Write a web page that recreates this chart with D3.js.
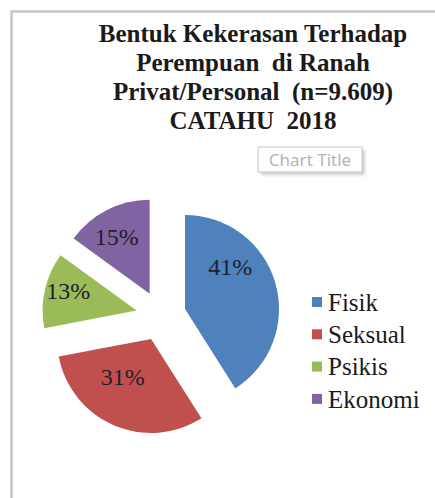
<!DOCTYPE html>
<html>
<head>
<meta charset="utf-8">
<script src="https://cdn.jsdelivr.net/npm/d3@7"></script>
<style>
  body { margin: 0; background: #fff; }
  text { white-space: pre; }
</style>
</head>
<body>
<script>
const categories = ["Fisik", "Seksual", "Psikis", "Ekonomi"]
const values = [41, 31, 13, 15]
const colors = ["#4f81bd", "#c0504d", "#9bbb59", "#8064a2"]
const titleLines = ["Bentuk Kekerasan Terhadap", "Perempuan  di Ranah", "Privat/Personal  (n=9.609)", "CATAHU  2018"]

const W = 435, H = 498
const svg = d3.select("body").append("svg").attr("width", W).attr("height", H)

// chart frame
svg.append("path")
  .attr("d", `M${W + 2},11.5 H11.5 V${H + 2}`)
  .attr("fill", "none").attr("stroke", "#c6c6c6").attr("stroke-width", 2.5)

// title
svg.append("text")
  .attr("text-anchor", "middle")
  .style("font-family", "'Liberation Serif', serif")
  .style("font-weight", "bold")
  .style("font-size", "25px")
  .attr("fill", "#1a1a1a")
  .selectAll("tspan").data(titleLines).enter().append("tspan")
  .attr("x", 253).attr("y", (d, i) => 42 + i * 29)
  .text(d => d)

// "Chart Title" placeholder box
const ct = svg.append("g").attr("transform", "translate(258,147)")
ct.append("rect").attr("x", 3).attr("y", 3).attr("width", 104).attr("height", 25)
  .attr("fill", "#d0d0d0").style("filter", "blur(1.5px)")
ct.append("rect").attr("width", 104).attr("height", 25)
  .attr("fill", "#fff").attr("stroke", "#c8c8c8")
ct.append("text").attr("x", 52).attr("y", 18.5).attr("text-anchor", "middle")
  .style("font-family", "'Noto Sans', sans-serif").style("font-size", "17px")
  .attr("fill", "#b4b4b4").text("Chart Title")

// pie
const cx = 161, cy = 316, r = 94, explode = 25
const pie = d3.pie().sort(null).value(d => d)
const arcs = pie(values)
const arc = d3.arc().innerRadius(0).outerRadius(r)

const g = svg.append("g").attr("transform", `translate(${cx},${cy})`)
const slice = g.selectAll("g.slice").data(arcs).enter().append("g")
  .attr("class", "slice")
  .attr("transform", d => {
    let a = (d.startAngle + d.endAngle) / 2
    return `translate(${Math.sin(a) * explode},${-Math.cos(a) * explode})`
  })

slice.append("path")
  .attr("d", arc)
  .attr("fill", (d, i) => colors[i])

// label placement inside each slice: [angle in degrees, distance from apex]
const labelAt = [[47, 62], [217, 47], [286, 71], [330, 66]]
slice.append("text")
  .attr("transform", (d, i) => {
    let a = labelAt[i][0] * Math.PI / 180
    let k = labelAt[i][1]
    return `translate(${Math.sin(a) * k},${-Math.cos(a) * k})`
  })
  .attr("text-anchor", "middle")
  .attr("dy", "0.35em")
  .style("font-family", "'Liberation Serif', serif")
  .style("font-size", "24px")
  .attr("fill", "#20202c")
  .text(d => d.value + "%")

// legend
const legend = svg.append("g").attr("transform", "translate(312,302)")
const item = legend.selectAll("g").data(categories).enter().append("g")
  .attr("transform", (d, i) => `translate(0,${i * 32.3})`)
item.append("rect").attr("x", 0).attr("y", -5).attr("width", 10).attr("height", 10)
  .attr("fill", (d, i) => colors[i])
item.append("text").attr("x", 16).attr("dy", "0.35em")
  .style("font-family", "'Liberation Serif', serif")
  .style("font-size", "25px")
  .attr("fill", "#1a1a1a")
  .text(d => d)
</script>
</body>
</html>
